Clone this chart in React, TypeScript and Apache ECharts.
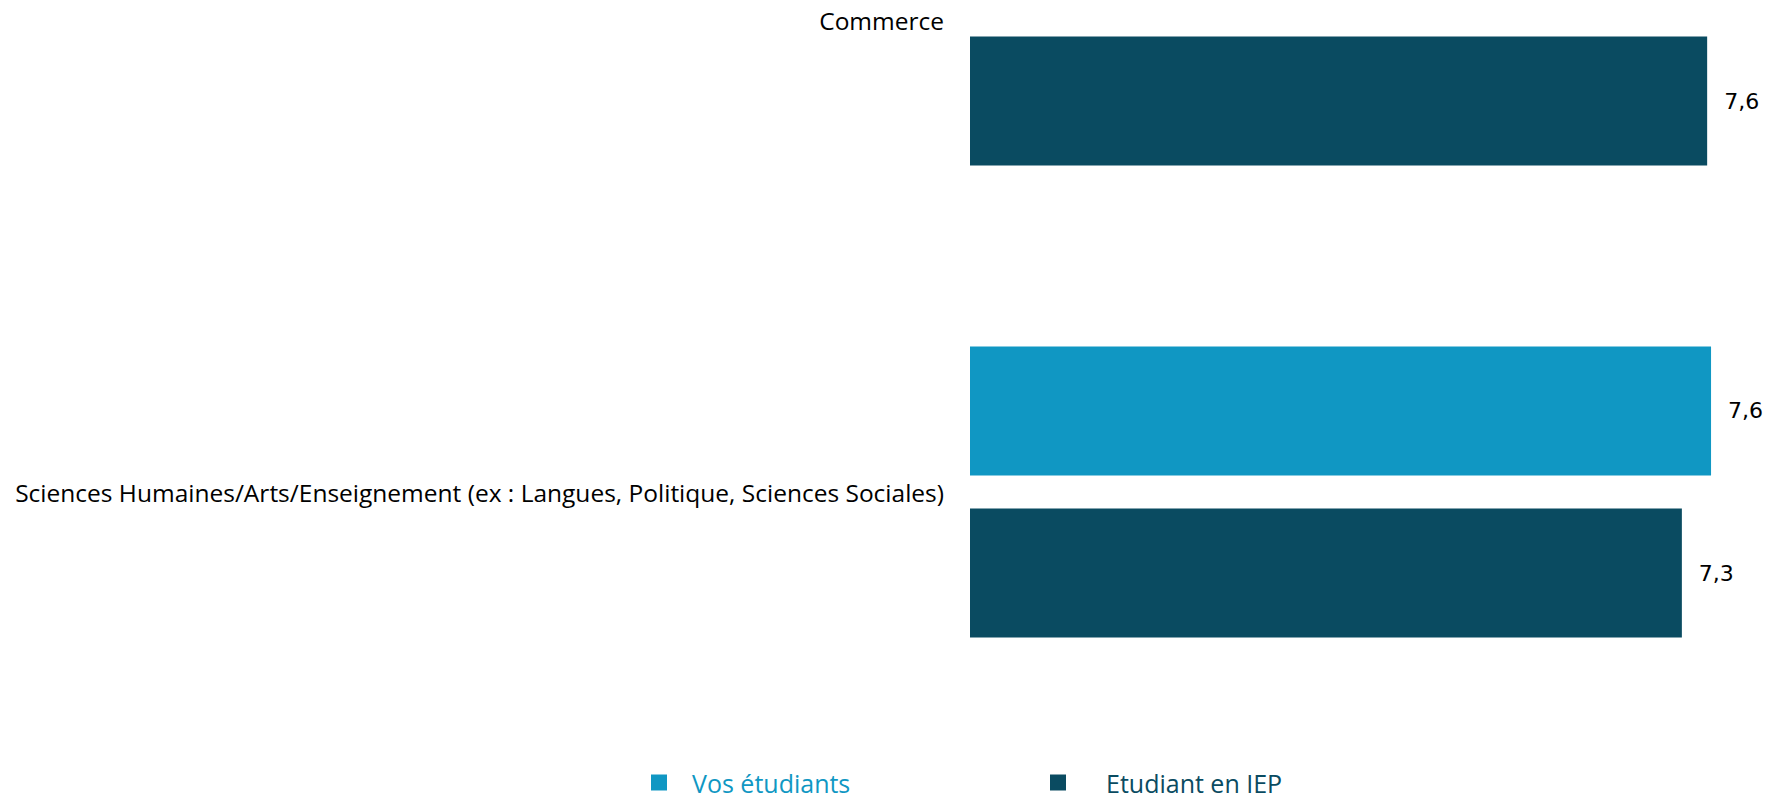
import React, { useEffect, useRef } from "react";
import * as echarts from "echarts";

const categories = [
  "Commerce",
  "Sciences Humaines/Arts/Enseignement (ex : Langues, Politique, Sciences Sociales)",
];
const seriesNames = ["Vos étudiants", "Etudiant en IEP"];
const vosEtudiants: (number | null)[] = [null, 7.62];
const etudiantIEP: (number | null)[] = [7.58, 7.32];
const colors = ["#1097C3", "#0A4B61"];

const fmt = (v: number) => v.toFixed(1).replace(".", ",");

export default function App() {
  const ref = useRef<HTMLDivElement>(null);
  useEffect(() => {
    document.body.style.margin = "0";
    const chart = echarts.init(ref.current!, undefined, { renderer: "svg" });
    const labelCfg = {
      show: true,
      position: "right" as const,
      distance: 17,
      color: "#000",
      fontFamily: "DejaVu Sans",
      fontSize: 22,
      formatter: (p: any) => fmt(p.value),
    };
    chart.setOption({
      animation: false,
      backgroundColor: "#fff",
      grid: { left: 970, top: 20, width: 778, height: 472 },
      xAxis: {
        type: "value",
        min: 0,
        max: 8,
        show: false,
      },
      yAxis: {
        type: "category",
        inverse: true,
        boundaryGap: false,
        data: categories,
        axisLine: { show: false },
        axisTick: { show: false },
        splitLine: { show: false },
        axisLabel: {
          margin: 26,
          color: "#000",
          fontFamily: "Open Sans",
          fontSize: 24.5,
        },
      },
      legend: [
        {
          data: [seriesNames[0]],
          left: 651,
          top: 770,
          padding: 0,
          itemWidth: 16,
          itemHeight: 16,
          icon: "rect",
          textStyle: { color: colors[0], fontFamily: "Open Sans", fontSize: 25, padding: [0, 0, 0, 20] },
        },
        {
          data: [seriesNames[1]],
          left: 1050,
          top: 770,
          padding: 0,
          itemWidth: 16,
          itemHeight: 16,
          icon: "rect",
          textStyle: { color: colors[1], fontFamily: "Open Sans", fontSize: 25, padding: [0, 0, 0, 35] },
        },
      ],
      series: [
        {
          name: seriesNames[0],
          type: "bar",
          data: vosEtudiants,
          barWidth: 129,
          barGap: "25.6%",
          clip: false,
          itemStyle: { color: colors[0] },
          label: labelCfg,
        },
        {
          name: seriesNames[1],
          type: "bar",
          data: etudiantIEP,
          barWidth: 129,
          barGap: "25.6%",
          clip: false,
          itemStyle: { color: colors[1] },
          label: labelCfg,
        },
      ],
    });
    return () => chart.dispose();
  }, []);
  return <div ref={ref} style={{ width: 1770, height: 800 }} />;
}
